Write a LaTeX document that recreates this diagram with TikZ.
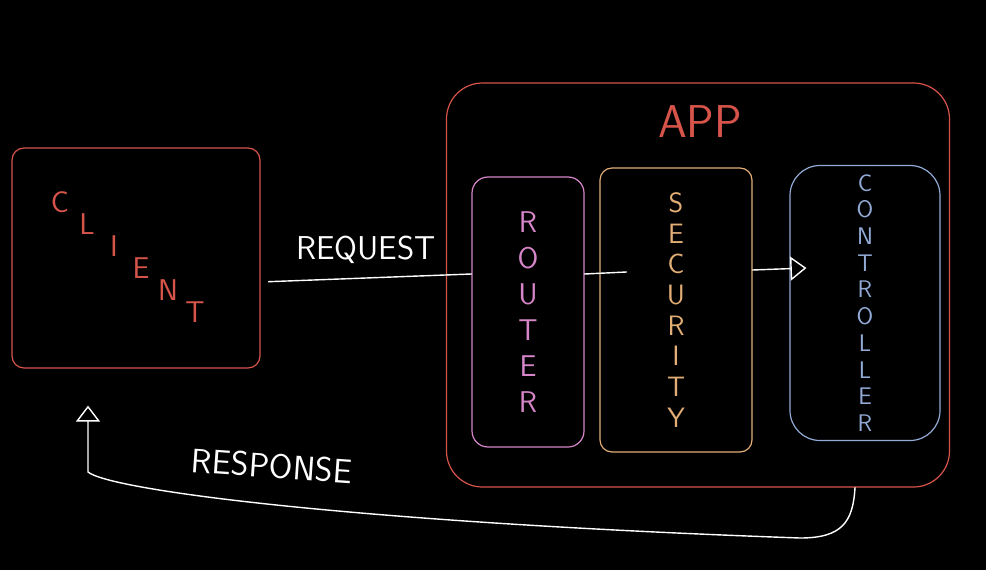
\documentclass[tikz,border=0pt]{standalone}
\usetikzlibrary{arrows.meta, positioning}
\definecolor{appred}{RGB}{214,84,74}
\definecolor{routerpink}{RGB}{214,134,200}
\definecolor{secorange}{RGB}{226,174,118}
\definecolor{ctrlblue}{RGB}{146,170,214}

\begin{document}
\begin{tikzpicture}[
    x=1pt, y=-1pt,
    box/.style={draw, line width=1.2pt, align=center, inner sep=0pt},
    stack/.style 2 args={font=\sffamily\fontsize{#1}{#2}\selectfont},
    link/.style={draw=white, line width=1.4pt, line cap=round},
    lbl/.style={text=white, font=\sffamily\fontsize{33}{33}\selectfont},
    >={Triangle[open, length=16pt, width=24pt]}
]
\fill[black] (0,0) rectangle (986,570);
\useasboundingbox (0,0) rectangle (986,570);

\node[box, draw=appred, rounded corners=12pt, minimum width=248pt, minimum height=220pt] (client) at (136,258) {};

\foreach \l [count=\i from 0] in {C,L,I,E,N,T}
    \node[text=appred, font=\sffamily\fontsize{30}{30}\selectfont] (client\i) at (60+27*\i, 202+22*\i) {\l};

\node[box, draw=appred, rounded corners=36pt, minimum width=503pt, minimum height=404pt] (app) at (698,285) {};

\node[text=appred, font=\sffamily\fontsize{46}{46}\selectfont] (applabel) at (700,122) {APP};

\node[box, draw=routerpink, text=routerpink, rounded corners=16pt, minimum width=112pt, minimum height=270pt, stack={30}{36pt}] (router) at (528,312) {R\\O\\U\\T\\E\\R};

\node[box, draw=secorange, text=secorange, rounded corners=12pt, minimum width=152pt, minimum height=284pt, stack={28}{30.7pt}] (security) at (676,310) {S\\E\\C\\U\\R\\I\\T\\Y};

\node[box, draw=ctrlblue, text=ctrlblue, rounded corners=30pt, minimum width=150pt, minimum height=275pt, stack={24}{26.7pt}] (controller) at (865,303) {C\\O\\N\\T\\R\\O\\L\\L\\E\\R};

\draw[link, shorten <=8pt] ([yshift=-24pt]client.east) -- ([yshift=38pt]router.west)
    node[midway, above=10pt, lbl] (reqlabel) {REQUEST};

\draw[link] ([yshift=38pt]router.east) -- ([xshift=27pt, yshift=38pt]security.west);

\draw[link, ->] ([yshift=40pt]security.east) -- ([xshift=17pt, yshift=35pt]controller.west);

\draw[link, ->] ([xshift=157pt]app.south) .. controls (853,522) and (842,538) .. (800,538)
    .. controls (350,522) and (110,490) .. (88,472) -- ([xshift=-48pt, yshift=-37pt]client.south);

\node[lbl, font=\sffamily\fontsize{34}{34}\selectfont, rotate=-4] (resplabel) at (272,466) {RESPONSE};

\end{tikzpicture}
\end{document}
